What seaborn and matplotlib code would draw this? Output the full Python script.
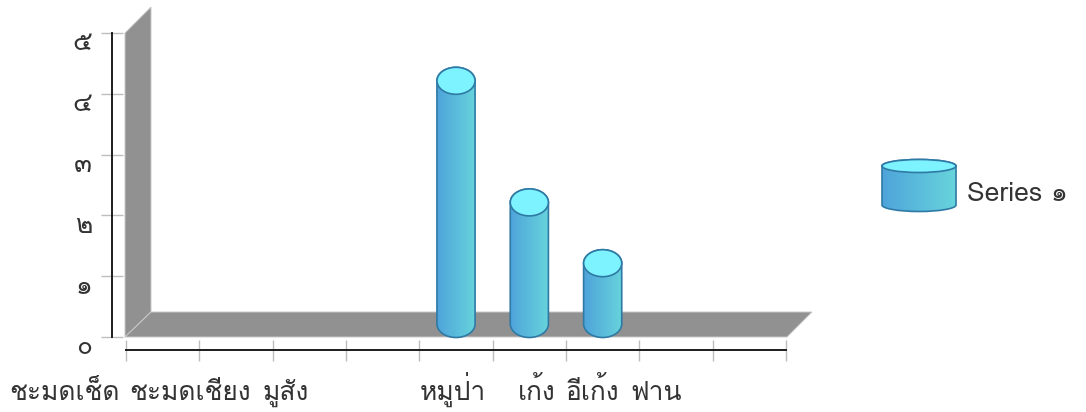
import matplotlib
matplotlib.use('Agg')
import matplotlib.pyplot as plt
import numpy as np
import pandas as pd
import seaborn as sns
from matplotlib.colors import LinearSegmentedColormap
from matplotlib.patches import Ellipse, PathPatch, Polygon
from matplotlib.path import Path

# --- Data ---
categories = ['ชะมดเช็ด', 'ชะมดเชียง', 'มูสัง', '', 'หมูป่า', 'เก้ง', 'อีเก้ง', 'ฟาน', '']
values = [0, 0, 0, 0, 4, 2, 1, 0, 0]
y_ticks = [0, 1, 2, 3, 4, 5]
y_tick_labels = ['๐', '๑', '๒', '๓', '๔', '๕']
series_name = 'Series ๑'

# --- Layout, in image pixels ---
W, H = 1086, 412
PLOT_LEFT, PLOT_RIGHT = 126, 786
PLOT_TOP, PLOT_BOTTOM = 33, 337
DEPTH_X, DEPTH_Y = 26, 25
BAR_LIFT = 13  # bars stand in the middle of the floor
PX = 72 / 100  # one pixel in points at dpi 100
# left edge of each x label, the chart does not centre them on the cells
label_left = [9, 129, 263, None, 420, 518, 566, 630, None]

WALL = '#919191'
WALL_EDGE = '#c9c9c9'
TICK = '#bdbdbd'
TEXT = '#333333'
CYL_EDGE = '#2f7aa5'
CYL_TOP = '#7df3ff'
cyl_cmap = LinearSegmentedColormap.from_list('cyl', ['#4fa4da', '#67d4dc'])

sns.set_theme(style='white')
plt.rcParams['font.family'] = ['Loma', 'DejaVu Sans']

fig = plt.figure(figsize=(W / 100, H / 100), dpi=100)
ax = fig.add_axes([PLOT_LEFT / W, 1 - PLOT_BOTTOM / H,
                   (PLOT_RIGHT - PLOT_LEFT) / W, (PLOT_BOTTOM - PLOT_TOP) / H])

df = pd.DataFrame({'slot': np.arange(len(categories)), 'value': values})
sns.barplot(data=df, x='slot', y='value', color='#4fa4da', width=0.52, ax=ax)

ax.set_xlim(-0.5, len(categories) - 0.5)
ax.set_ylim(y_ticks[0], y_ticks[-1])
ax.set_xlabel('')
ax.set_ylabel('')
ax.patch.set_alpha(0)
ax.set_xticks(np.arange(len(categories) + 1) - 0.5)
ax.set_xticklabels([])
ax.set_yticks(y_ticks)
ax.set_yticklabels(y_tick_labels, rotation=-90, va='center')
ax.tick_params(axis='x', direction='inout', length=21 * PX, width=1, color=TICK, bottom=True)
ax.tick_params(axis='y', direction='inout', length=22 * PX, width=1, color=TICK, left=True,
               pad=9 * PX, labelsize=19, labelcolor=TEXT)
for spine in ['top', 'right']:
    ax.spines[spine].set_visible(False)
ax.spines['left'].set_position(('outward', 14 * PX))
ax.spines['bottom'].set_position(('outward', 13 * PX))
for spine in ['left', 'bottom']:
    ax.spines[spine].set_color('#1c1c1c')
    ax.spines[spine].set_linewidth(1.4)

# the digits sit a little under their ticks
shift = matplotlib.transforms.ScaledTranslation(0, -8 * PX / 72, fig.dpi_scale_trans)
for label in ax.get_yticklabels():
    label.set_transform(label.get_transform() + shift)

# overlay in image pixels for the 3D look
ov = fig.add_axes([0, 0, 1, 1])
ov.axis('off')


def reset_overlay():
    ov.set_xlim(0, W)
    ov.set_ylim(H, 0)


reset_overlay()


def draw_cylinder(x0, x1, y_top, y_bot, ry):
    """Cylinder between two ellipse centres, with a gradient body."""
    cx = (x0 + x1) / 2
    rx = (x1 - x0) / 2
    k = 0.5523
    verts = [(x0, y_top), (x0, y_bot),
             (x0, y_bot + k * ry), (cx - k * rx, y_bot + ry), (cx, y_bot + ry),
             (cx + k * rx, y_bot + ry), (x1, y_bot + k * ry), (x1, y_bot),
             (x1, y_top),
             (x1, y_top - k * ry), (cx + k * rx, y_top - ry), (cx, y_top - ry),
             (cx - k * rx, y_top - ry), (x0, y_top - k * ry), (x0, y_top),
             (x0, y_top)]
    codes = [Path.MOVETO, Path.LINETO,
             Path.CURVE4, Path.CURVE4, Path.CURVE4,
             Path.CURVE4, Path.CURVE4, Path.CURVE4,
             Path.LINETO,
             Path.CURVE4, Path.CURVE4, Path.CURVE4,
             Path.CURVE4, Path.CURVE4, Path.CURVE4,
             Path.CLOSEPOLY]
    body = PathPatch(Path(verts, codes), facecolor='none', edgecolor=CYL_EDGE, linewidth=1.2, zorder=4)
    ov.add_patch(body)
    grad = np.linspace(0, 1, 64).reshape(1, -1)
    im = ov.imshow(grad, cmap=cyl_cmap, aspect='auto', zorder=3,
                   extent=(x0, x1, y_bot + ry, y_top - ry))
    im.set_clip_path(PathPatch(Path(verts, codes), transform=ov.transData))
    ov.add_patch(Ellipse((cx, y_top), x1 - x0, 2 * ry, facecolor=CYL_TOP,
                         edgecolor=CYL_EDGE, linewidth=1.2, zorder=5))
    reset_overlay()


# wall and floor
ov.add_patch(Polygon([(PLOT_LEFT - 1, PLOT_TOP), (PLOT_LEFT - 1 + DEPTH_X, PLOT_TOP - DEPTH_Y - 1),
                      (PLOT_LEFT - 1 + DEPTH_X, PLOT_BOTTOM - DEPTH_Y), (PLOT_LEFT - 1, PLOT_BOTTOM)],
                     facecolor=WALL, edgecolor=WALL_EDGE, linewidth=0.7, zorder=1))
ov.add_patch(Polygon([(PLOT_LEFT - 1, PLOT_BOTTOM), (PLOT_LEFT - 1 + DEPTH_X, PLOT_BOTTOM - DEPTH_Y),
                      (PLOT_RIGHT + DEPTH_X, PLOT_BOTTOM - DEPTH_Y), (PLOT_RIGHT + 1, PLOT_BOTTOM)],
                     facecolor=WALL, edgecolor=WALL_EDGE, linewidth=0.7, zorder=1))

# cylinders from the bars seaborn has drawn
fig.canvas.draw()
to_px = ax.transData
for bar in ax.patches:
    if bar.get_height() <= 0:
        continue
    (x0, y0), (x1, y1) = to_px.transform([(bar.get_x(), 0),
                                          (bar.get_x() + bar.get_width(), bar.get_height())])
    draw_cylinder(x0, x1, H - y1 - BAR_LIFT, H - y0 - BAR_LIFT, 13.5)

# x labels
for text, left in zip(categories, label_left):
    if left is not None:
        ov.text(left, 400, text, fontsize=19, color=TEXT, ha='left', va='baseline')

# legend
draw_cylinder(882, 956, 166, 205, 6.5)
ov.text(967, 201, series_name, fontsize=19, color=TEXT, ha='left', va='baseline')

fig.savefig('out.png', dpi=100)
